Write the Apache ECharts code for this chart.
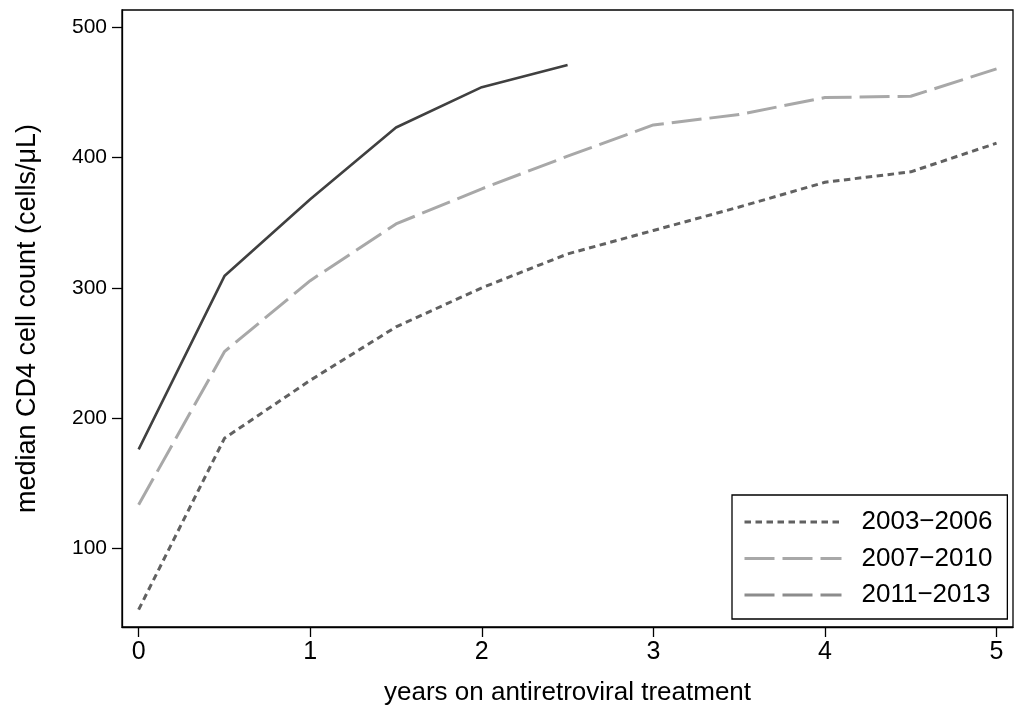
<!DOCTYPE html>
<html>
<head>
<meta charset="utf-8">
<script src="https://cdn.jsdelivr.net/npm/echarts@6/dist/echarts.min.js"></script>
<style>
html,body{margin:0;padding:0;background:#fff;}
#chart{width:1021px;height:711px;}
</style>
</head>
<body>
<div id="chart"></div>
<script>
// ---- data ----
const years = [0, 0.5, 1, 1.5, 2, 2.5, 3, 3.5, 4, 4.5, 5];
const cohort2003 = [53, 184.5, 229, 270, 300, 326, 344, 362, 381, 389, 411];
const cohort2007 = [133.5, 251, 305.5, 349, 376, 401, 425, 433, 446, 447, 468];
const cohort2011 = [176, 309, 368, 423, 454, 471];
const seriesNames = ['2003\u22122006', '2007\u22122010', '2011\u22122013'];
const xTicks = [0, 1, 2, 3, 4, 5];
const yTicks = [100, 200, 300, 400, 500];
const xTitle = 'years on antiretroviral treatment';
const yTitle = 'median CD4 cell count (cells/\u03bcL)';

const pairs = (xs, ys) => ys.map((v, i) => [xs[i], v]);
const FONT = '"Liberation Sans", Arial, Helvetica, sans-serif';

const chart = echarts.init(document.getElementById('chart'), null, {renderer: 'canvas'});
chart.setOption({
  animation: false,
  backgroundColor: '#fff',
  textStyle: {fontFamily: FONT, color: '#000'},
  grid: {left: 122, right: 8, top: 10, bottom: 82, show: true, borderColor: '#000', borderWidth: 1.3, backgroundColor: 'transparent'},
  xAxis: {
    type: 'value', min: -0.097, max: 5.096,
    axisLine: {show: true, onZero: false, lineStyle: {color: '#000', width: 1.3}},
    axisTick: {show: true, length: 10, customValues: xTicks, lineStyle: {color: '#000', width: 1.3}},
    axisLabel: {customValues: xTicks, fontSize: 25, color: '#000', margin: 13, fontFamily: FONT},
    splitLine: {show: false},
    name: xTitle, nameLocation: 'middle', nameGap: 53,
    nameTextStyle: {fontSize: 26, color: '#000', fontFamily: FONT}
  },
  yAxis: {
    type: 'value', min: 39.7, max: 513.2,
    axisLine: {show: true, onZero: false, lineStyle: {color: '#000', width: 1.3}},
    axisTick: {show: true, length: 10, customValues: yTicks, lineStyle: {color: '#000', width: 1.3}},
    axisLabel: {customValues: yTicks, fontSize: 21, color: '#000', margin: 15, fontFamily: FONT},
    splitLine: {show: false},
    name: yTitle, nameLocation: 'middle', nameGap: 81,
    nameTextStyle: {fontSize: 27, color: '#000', fontFamily: FONT}
  },
  legend: {
    orient: 'vertical', left: 732, top: 495,
    padding: [14, 15, 11, 11],
    borderColor: '#000', borderWidth: 1.3,
    itemWidth: 97, itemHeight: 26, itemGap: 10.5,
    itemStyle: {opacity: 0},
    textStyle: {fontSize: 26, color: '#000', fontFamily: FONT, padding: [0, 0, 0, 15]},
    data: [
      {name: seriesNames[0], lineStyle: {color: '#616161', type: [6.5, 4.5], width: 3}, itemStyle: {opacity: 0}},
      {name: seriesNames[1], lineStyle: {color: '#a8a8a8', type: [30, 8], width: 3}, itemStyle: {opacity: 0}},
      {name: seriesNames[2], lineStyle: {color: '#8c8c8c', type: [30, 8], width: 3}, itemStyle: {opacity: 0}}
    ]
  },
  series: [
    {
      name: seriesNames[0], type: 'line', data: pairs(years, cohort2003),
      symbol: 'none', color: '#616161',
      lineStyle: {color: '#616161', width: 3, type: [6.5, 4.5]}
    },
    {
      name: seriesNames[1], type: 'line', data: pairs(years, cohort2007),
      symbol: 'none', color: '#a8a8a8',
      lineStyle: {color: '#a8a8a8', width: 3, type: [30, 8]}
    },
    {
      name: seriesNames[2], type: 'line', data: pairs(years, cohort2011),
      symbol: 'none', color: '#404040',
      lineStyle: {color: '#404040', width: 2.6, type: 'solid'}
    }
  ]
});
</script>
</body>
</html>
